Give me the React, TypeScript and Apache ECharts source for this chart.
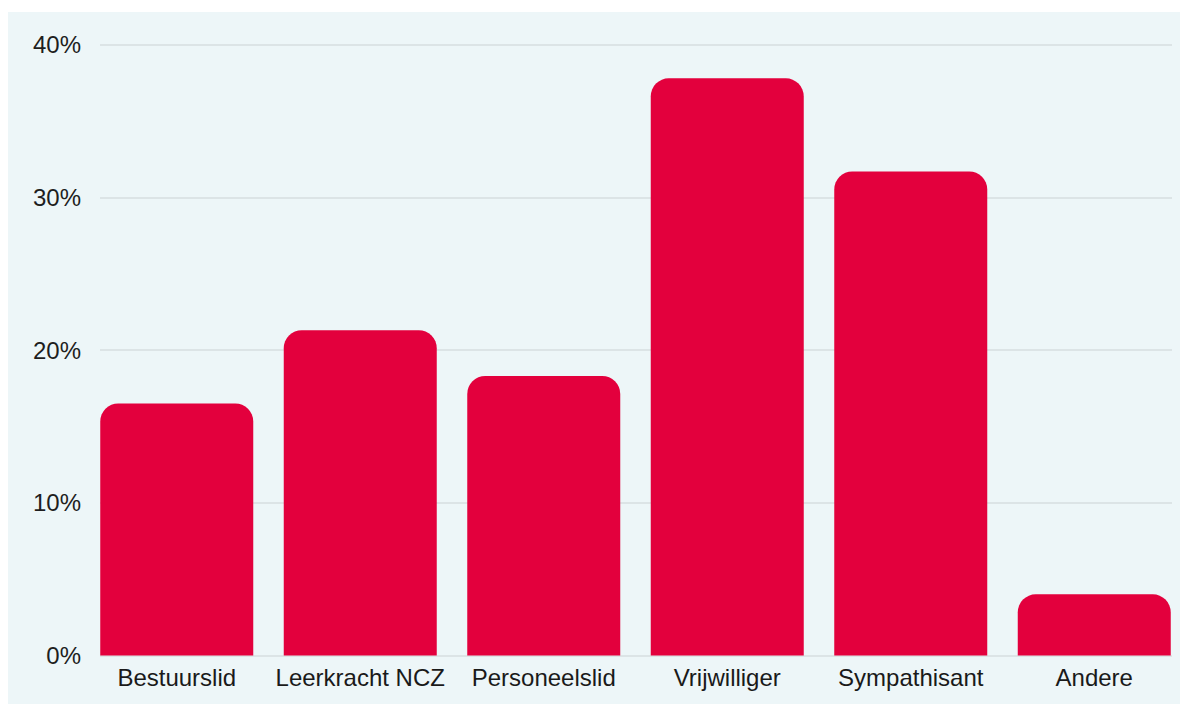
import React, { useEffect, useRef } from "react";
import * as echarts from "echarts";

const categories = ["Bestuurslid", "Leerkracht NCZ", "Personeelslid", "Vrijwilliger", "Sympathisant", "Andere"];
const values = [16.5, 21.3, 18.3, 37.8, 31.7, 4.0];
const yTicks = [0, 10, 20, 30, 40];

export default function App() {
  const ref = useRef<HTMLDivElement>(null);
  useEffect(() => {
    if (!ref.current) return;
    const chart = echarts.init(ref.current, undefined, { renderer: "svg" });
    const font = "'Liberation Sans', Arial, Helvetica, sans-serif";
    const yMin = yTicks[0];
    const yMax = yTicks[yTicks.length - 1];
    const step = yTicks[1] - yTicks[0];
    chart.setOption({
      animation: false,
      backgroundColor: "#edf6f8",
      grid: [
        { left: 92, width: 1072, top: 32.7, bottom: 48.6 },
        { left: 77, width: 1101, top: 32.7, bottom: 48.6 },
      ],
      xAxis: [
        { gridIndex: 0, type: "category", data: categories, show: false },
        {
          gridIndex: 1,
          type: "category",
          data: categories,
          axisLine: { show: false },
          axisTick: { show: false },
          axisLabel: { color: "#1a1a1a", fontSize: 24, fontFamily: font, margin: 10, interval: 0 },
        },
      ],
      yAxis: [
        {
          gridIndex: 0,
          type: "value",
          min: yMin,
          max: yMax,
          interval: step,
          axisLine: { show: false },
          axisTick: { show: false },
          axisLabel: { formatter: "{value}%", color: "#1e1e1e", fontSize: 24, fontFamily: font, margin: 19 },
          splitLine: { show: true, lineStyle: { color: "#d6dee1", width: 1.5 } },
        },
        {
          gridIndex: 1,
          type: "value",
          min: yMin,
          max: yMax,
          interval: step,
          show: false,
          splitLine: { show: false },
        },
      ],
      series: [
        {
          type: "bar",
          xAxisIndex: 1,
          yAxisIndex: 1,
          data: values,
          barWidth: 153,
          itemStyle: { color: "#e3003d", borderRadius: [18, 18, 0, 0] },
        },
      ],
    });
    return () => chart.dispose();
  }, []);
  return (
    <div style={{ position: "absolute", left: 8, top: 12, width: 1172, height: 692, overflow: "hidden" }}>
      <div ref={ref} style={{ width: 1200, height: 692 }} />
    </div>
  );
}
